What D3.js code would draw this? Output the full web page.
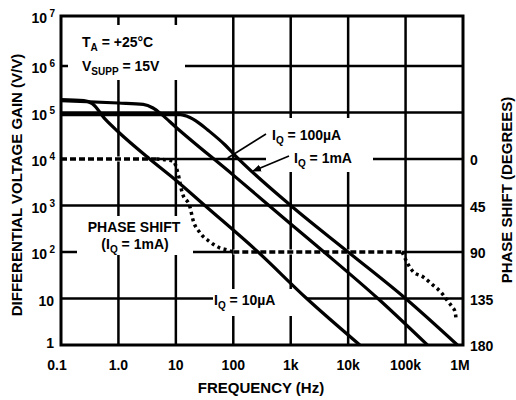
<!DOCTYPE html>
<html>
<head>
<meta charset="utf-8">
<script src="https://cdnjs.cloudflare.com/ajax/libs/d3/7.8.5/d3.min.js"></script>
<style>
    body { margin: 0; background: #fff; }
    text { font-family: "Liberation Sans", Arial, sans-serif; font-weight: bold; fill: #000; }
</style>
</head>
<body>
<div id="chart"></div>
<script>
// axis ticks
var freqTicks = [0.1, 1, 10, 100, 1e3, 1e4, 1e5, 1e6];
var freqLabels = ["0.1", "1.0", "10", "100", "1k", "10k", "100k", "1M"];
var gainTicks = [1, 10, 1e2, 1e3, 1e4, 1e5, 1e6, 1e7];
var gainBase = ["1", "10", "10", "10", "10", "10", "10", "10"];
var gainExp = ["", "", "2", "3", "4", "5", "6", "7"];
var phaseTicks = [0, 45, 90, 135, 180];

// gain curves (freq Hz, gain V/V)
var iq10uA_f = [0.1, 0.25, 0.35, 0.6, 1, 3.5, 10, 32, 270, 1.9e3, 16e3];
var iq10uA_g = [1.9e5, 1.8e5, 1.55e5, 7e4, 3.8e4, 1e4, 3.5e3, 1e3, 100, 10, 1];

var iq100uA_f = [0.1, 1, 2.7, 4, 5.7, 9.7, 100, 1e3, 3.8e3, 33e3, 240e3];
var iq100uA_g = [1.8e5, 1.6e5, 1.5e5, 1.25e5, 9e4, 5e4, 4.5e3, 400, 100, 10, 1];

var iq1mA_f = [0.1, 12, 16, 25, 36, 72, 107, 1e3, 1e4, 1e5, 8e5];
var iq1mA_g = [9e4, 9e4, 8.2e4, 6e4, 4.2e4, 2e4, 1.2e4, 1e3, 100, 10, 1];

// phase shift, IQ = 1mA (freq Hz, degrees)
var phase_f = [0.1, 4.6, 9, 11, 12.8, 17.7, 19.9, 26, 39, 58, 78, 100, 1e3, 1e4, 87e3,
               135e3, 200e3, 300e3, 430e3, 550e3, 645e3, 730e3, 760e3];
var phase_deg = [0, 0, 2, 15, 32, 47, 59, 71, 80, 86, 88, 90, 90, 90, 90,
                 109, 114, 122, 130, 138, 143, 148, 156];

var WIDTH = 516, HEIGHT = 400;

var svg = d3.select("#chart").append("svg")
    .attr("width", WIDTH)
    .attr("height", HEIGHT);

var x = d3.scaleLog().domain([0.1, 1e6]).range([61, 463]);
var y = d3.scaleLog().domain([1, 1e7]).range([345, 19.5]);
var yPhase = d3.scaleLinear().domain([0, 180]).range([y(1e4), y(1)]);
var TOP = 16;

function zip(fs, vs) {
    return fs.map(function (f, i) { return [f, vs[i]]; });
}

var defs = svg.append("defs");
defs.append("marker")
    .attr("id", "arrow")
    .attr("viewBox", "0 0 10 10")
    .attr("refX", 9).attr("refY", 5)
    .attr("markerWidth", 9).attr("markerHeight", 9)
    .attr("markerUnits", "userSpaceOnUse")
    .attr("orient", "auto")
    .append("path").attr("d", "M0,1 L10,5 L0,9 Z").attr("fill", "#000");

// grid
var grid = svg.append("g").attr("stroke", "#000").attr("stroke-width", 2.5);
grid.selectAll("line.h")
    .data(gainTicks.slice(1, -1)).enter()
    .append("line").attr("class", "h")
    .attr("x1", x(0.1)).attr("x2", x(1e6))
    .attr("y1", function (d) { return y(d); })
    .attr("y2", function (d) { return y(d); });

// white under the dashed phase runs hides the horizontal grid there
var phaseLine = d3.line()
    .x(function (d) { return x(d[0]); })
    .y(function (d) { return yPhase(d[1]); });
var phasePts = zip(phase_f, phase_deg);
var dashRuns = [phasePts.slice(0, 2), phasePts.slice(11, 15)];
var dotRuns = [phasePts.slice(1, 12), phasePts.slice(14)];

svg.append("g").selectAll("path")
    .data(dashRuns).enter()
    .append("path")
    .attr("d", phaseLine)
    .attr("fill", "none")
    .attr("stroke", "#fff")
    .attr("stroke-width", 5);

grid.selectAll("line.v")
    .data(freqTicks.slice(1, -1)).enter()
    .append("line").attr("class", "v")
    .attr("y1", TOP).attr("y2", y(1))
    .attr("x1", function (d) { return x(d); })
    .attr("x2", function (d) { return x(d); });

// gaps in grid behind the labels
var gaps = [
    [68, 25, 117, 55],
    [77, 216, 116, 39],
    [213, 289, 94, 27],
    [266, 118, 107, 54]
];
svg.append("g").selectAll("rect")
    .data(gaps).enter()
    .append("rect")
    .attr("x", function (d) { return d[0]; })
    .attr("y", function (d) { return d[1]; })
    .attr("width", function (d) { return d[2]; })
    .attr("height", function (d) { return d[3]; })
    .attr("fill", "#fff");

// frame
svg.append("rect")
    .attr("x", x(0.1)).attr("y", TOP)
    .attr("width", x(1e6) - x(0.1))
    .attr("height", y(1) - TOP)
    .attr("fill", "none")
    .attr("stroke", "#000")
    .attr("stroke-width", 3);

// phase curve
var phaseG = svg.append("g").attr("fill", "none").attr("stroke", "#000").attr("stroke-width", 3.5);
phaseG.selectAll("path.dash")
    .data(dashRuns).enter()
    .append("path").attr("class", "dash")
    .attr("d", phaseLine)
    .attr("stroke-dasharray", "6,3");
phaseG.selectAll("path.dot")
    .data(dotRuns).enter()
    .append("path").attr("class", "dot")
    .attr("d", phaseLine.curve(d3.curveMonotoneX))
    .attr("stroke-dasharray", "3,3.5");

// gain curves
var gainLine = d3.line()
    .x(function (d) { return x(d[0]); })
    .y(function (d) { return y(d[1]); })
    .curve(d3.curveMonotoneX);

svg.append("g").selectAll("path")
    .data([zip(iq10uA_f, iq10uA_g), zip(iq100uA_f, iq100uA_g), zip(iq1mA_f, iq1mA_g)])
    .enter().append("path")
    .attr("d", gainLine)
    .attr("fill", "none")
    .attr("stroke", "#000")
    .attr("stroke-width", 3.2);

// annotation arrows
svg.append("line")
    .attr("x1", 266).attr("y1", 134)
    .attr("x2", x(80)).attr("y2", y(1.05e4))
    .attr("stroke", "#000").attr("stroke-width", 1.6);
svg.append("line")
    .attr("x1", 289).attr("y1", 156)
    .attr("x2", x(220)).attr("y2", y(5.5e3))
    .attr("stroke", "#000").attr("stroke-width", 1.6)
    .attr("marker-end", "url(#arrow)");

// tick labels
var yl = svg.append("g").attr("font-size", 14).attr("text-anchor", "end");
gainTicks.forEach(function (d, i) {
    var t = yl.append("text")
        .attr("x", gainExp[i] ? 47 : 54)
        .attr("y", i === 0 ? y(d) + 3 : (i === 7 ? TOP + 7 : y(d) + 7))
        .text(gainBase[i]);
    if (gainExp[i]) {
        yl.append("text")
            .attr("x", 55)
            .attr("y", (i === 7 ? TOP + 7 : y(d) + 7) - 6)
            .attr("font-size", 10)
            .text(gainExp[i]);
    }
});

svg.append("g").attr("font-size", 14).attr("text-anchor", "middle")
    .selectAll("text")
    .data(freqTicks).enter()
    .append("text")
    .attr("x", function (d, i) { return x(d) + (i === 0 ? -4 : (i === 7 ? -3 : 0)); })
    .attr("y", 370)
    .text(function (d, i) { return freqLabels[i]; });

svg.append("g").attr("font-size", 14)
    .selectAll("text")
    .data(phaseTicks).enter()
    .append("text")
    .attr("x", 470)
    .attr("y", function (d) { return yPhase(d) + 6; })
    .text(function (d) { return d; });

// axis titles
svg.append("text")
    .attr("transform", "translate(22,185) rotate(-90)")
    .attr("text-anchor", "middle")
    .attr("font-size", 15)
    .text("DIFFERENTIAL VOLTAGE GAIN (V/V)");

svg.append("text")
    .attr("transform", "translate(512,190) rotate(-90)")
    .attr("text-anchor", "middle")
    .attr("font-size", 15)
    .text("PHASE SHIFT (DEGREES)");

svg.append("text")
    .attr("x", 261).attr("y", 393)
    .attr("text-anchor", "middle")
    .attr("font-size", 15)
    .text("FREQUENCY (Hz)");

// in-chart labels
function subLabel(px, py, main, sub, rest, anchor) {
    var t = svg.append("text")
        .attr("x", px).attr("y", py)
        .attr("font-size", 14)
        .attr("text-anchor", anchor || "start");
    t.append("tspan").text(main);
    t.append("tspan").attr("font-size", 10).attr("dy", 4).text(sub);
    t.append("tspan").attr("dy", -4).text(rest);
    return t;
}

subLabel(82, 47, "T", "A", " = +25°C");
subLabel(82, 71, "V", "SUPP", " = 15V");

svg.append("text")
    .attr("x", 134).attr("y", 232)
    .attr("text-anchor", "middle")
    .attr("font-size", 14)
    .text("PHASE SHIFT");
subLabel(135, 249, "(I", "Q", " = 1mA)", "middle");

subLabel(214, 305, "I", "Q", " = 10µA");
subLabel(272, 140, "I", "Q", " = 100µA");
subLabel(294, 163, "I", "Q", " = 1mA");
</script>
</body>
</html>
